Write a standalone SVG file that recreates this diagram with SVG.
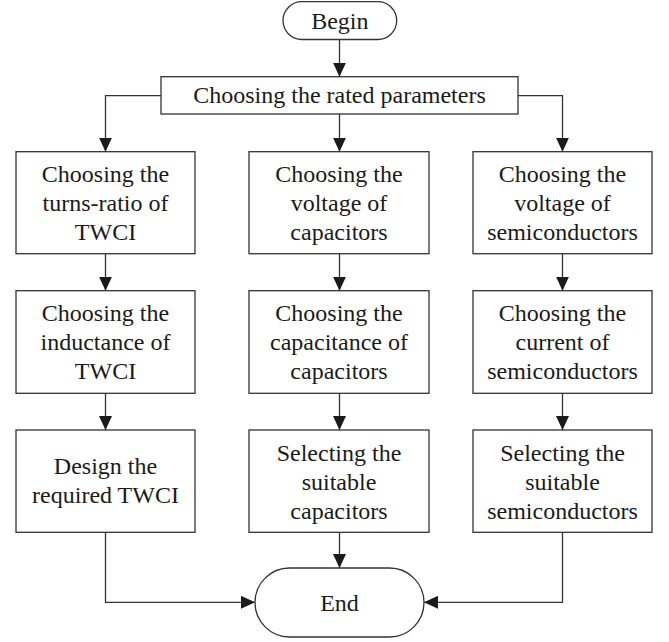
<svg xmlns="http://www.w3.org/2000/svg" width="669" height="642" viewBox="0 0 669 642">
<style>
.box{fill:#fff;stroke:#333;stroke-width:1.3}
.t{font-family:"Liberation Serif","Times New Roman",serif;font-size:24px;fill:#1a1a1a;text-anchor:middle}
.c{fill:none;stroke:#333;stroke-width:1.3}
</style>
<defs>
<marker id="ah" markerUnits="userSpaceOnUse" markerWidth="14" markerHeight="13" refX="14" refY="6.5" orient="auto">
<path d="M0,0 L14,6.5 L0,13 z" fill="#1a1a1a"/>
</marker>
</defs>
<rect width="669" height="642" fill="#fff"/>
<g id="connectors">
<path class="c" d="M339.5,39.5 V76.7" marker-end="url(#ah)"/>
<path class="c" d="M161,95.7 H105.5 V151.7" marker-end="url(#ah)"/>
<path class="c" d="M339.5,114 V151.7" marker-end="url(#ah)"/>
<path class="c" d="M518,95.7 H562.5 V151.7" marker-end="url(#ah)"/>
<path class="c" d="M105.5,253.7 V290.7" marker-end="url(#ah)"/>
<path class="c" d="M339.5,253.7 V290.7" marker-end="url(#ah)"/>
<path class="c" d="M562.5,253.7 V290.7" marker-end="url(#ah)"/>
<path class="c" d="M105.5,393.3 V430" marker-end="url(#ah)"/>
<path class="c" d="M339.5,393.3 V430" marker-end="url(#ah)"/>
<path class="c" d="M562.5,393.3 V430" marker-end="url(#ah)"/>
<path class="c" d="M339.5,532.3 V568" marker-end="url(#ah)"/>
<path class="c" d="M105.5,532.3 V602.3 H255" marker-end="url(#ah)"/>
<path class="c" d="M562.5,532.3 V602.3 H424" marker-end="url(#ah)"/>
</g>
<g id="begin">
<rect class="box" x="283" y="1.7" width="113.7" height="37.8" rx="18.9"/>
<text class="t" x="339.8" y="28.5">Begin</text>
</g>
<g id="rated">
<rect class="box" x="161" y="76.7" width="357" height="37.3"/>
<text class="t" x="339.5" y="103.3">Choosing the rated parameters</text>
</g>
<g id="turns">
<rect class="box" x="16" y="151.7" width="179" height="102"/>
<text class="t" x="105.5" y="182">Choosing the</text>
<text class="t" x="105.5" y="211">turns-ratio of</text>
<text class="t" x="105.5" y="240">TWCI</text>
</g>
<g id="volcap">
<rect class="box" x="249" y="151.7" width="180" height="102"/>
<text class="t" x="339" y="182">Choosing the</text>
<text class="t" x="339" y="211">voltage of</text>
<text class="t" x="339" y="240">capacitors</text>
</g>
<g id="volsemi">
<rect class="box" x="473" y="151.7" width="179" height="102"/>
<text class="t" x="562.5" y="182">Choosing the</text>
<text class="t" x="562.5" y="211">voltage of</text>
<text class="t" x="562.5" y="240">semiconductors</text>
</g>
<g id="induct">
<rect class="box" x="16" y="290.7" width="179" height="102.6"/>
<text class="t" x="105.5" y="321">Choosing the</text>
<text class="t" x="105.5" y="350">inductance of</text>
<text class="t" x="105.5" y="379">TWCI</text>
</g>
<g id="capac">
<rect class="box" x="249" y="290.7" width="180" height="102.6"/>
<text class="t" x="339" y="321">Choosing the</text>
<text class="t" x="339" y="350">capacitance of</text>
<text class="t" x="339" y="379">capacitors</text>
</g>
<g id="cursemi">
<rect class="box" x="473" y="290.7" width="179" height="102.6"/>
<text class="t" x="562.5" y="321">Choosing the</text>
<text class="t" x="562.5" y="350">current of</text>
<text class="t" x="562.5" y="379">semiconductors</text>
</g>
<g id="design">
<rect class="box" x="16" y="430" width="179" height="102.3"/>
<text class="t" x="105.5" y="473.5">Design the</text>
<text class="t" x="105.5" y="503">required TWCI</text>
</g>
<g id="selcap">
<rect class="box" x="249" y="430" width="180" height="102.3"/>
<text class="t" x="339" y="460.5">Selecting the</text>
<text class="t" x="339" y="489.5">suitable</text>
<text class="t" x="339" y="518.5">capacitors</text>
</g>
<g id="selsemi">
<rect class="box" x="473" y="430" width="179" height="102.3"/>
<text class="t" x="562.5" y="460.5">Selecting the</text>
<text class="t" x="562.5" y="489.5">suitable</text>
<text class="t" x="562.5" y="518.5">semiconductors</text>
</g>
<g id="end">
<rect class="box" x="255" y="568" width="169" height="69" rx="34.5"/>
<text class="t" x="339.5" y="610.5">End</text>
</g>
</svg>
